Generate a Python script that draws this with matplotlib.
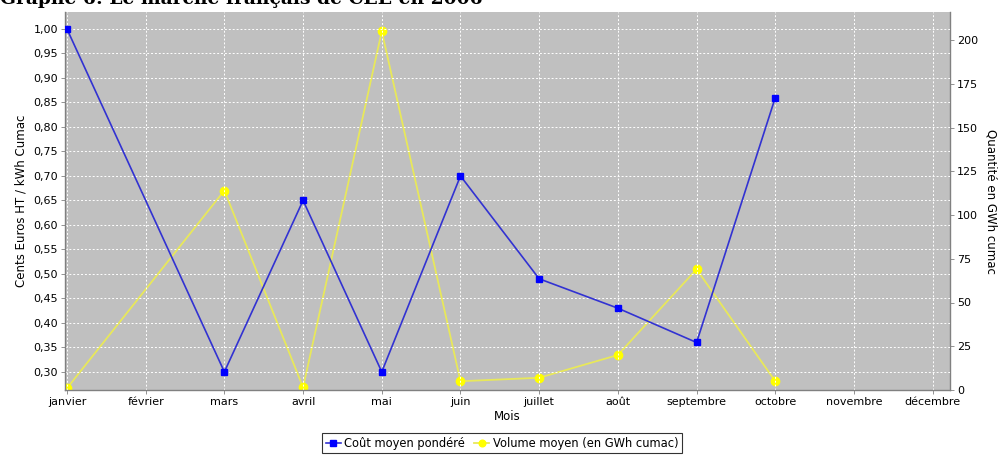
import matplotlib
matplotlib.use('Agg')
from matplotlib import pyplot as plt
from matplotlib.ticker import FuncFormatter, MultipleLocator

# Data
mois = ['janvier', 'février', 'mars', 'avril', 'mai', 'juin', 'juillet',
        'août', 'septembre', 'octobre', 'novembre', 'décembre']
cout = [1.00, None, 0.30, 0.65, 0.30, 0.70, 0.49, 0.43, 0.36, 0.86, None, None]
volume = [1, None, 114, 1.5, 205, 5, 7, 20, 69, 5, None, None]

title = 'Graphe 6: Le marché français de CEE en 2006'

def keep(vals):
    xs = [i for i, v in enumerate(vals) if v is not None]
    ys = [v for v in vals if v is not None]
    return xs, ys

plt.rcParams['font.family'] = ['DejaVu Sans']
fig = plt.figure(figsize=(9.98, 4.59), dpi=100)
ax1 = fig.add_axes([65/998, 1 - 390/459, (950 - 65)/998, (390 - 12)/459])
ax2 = ax1.twinx()

ax1.set_facecolor('#C0C0C0')
ax1.set_axisbelow(True)
ax2.set_zorder(ax1.get_zorder() - 1)
ax1.patch.set_visible(False)
ax2.patch.set_visible(True)
ax2.patch.set_facecolor('#C0C0C0')

x_c, y_c = keep(cout)
x_v, y_v = keep(volume)

h1, = ax1.plot(x_c, y_c, color='#3232D2', linewidth=1.2, marker='s',
               markersize=5, markerfacecolor='#0000FF', markeredgecolor='#0000FF',
               label='Coût moyen pondéré', zorder=3)
h2, = ax2.plot(x_v, y_v, color='#E8E85A', linewidth=1.3, marker='o',
               markersize=6, markerfacecolor='#FFFF00', markeredgecolor='#FFFF00',
               label='Volume moyen (en GWh cumac)', zorder=3)
# draw blue on top of yellow
ax1.set_zorder(ax2.get_zorder() + 1)

ax1.set_xlim(-0.025, 11.22)
ax1.set_ylim(0.263, 1.0347)
ax2.set_ylim(0, 216)

ax1.set_xticks(range(len(mois)))
ax1.set_xticklabels(mois)
ax1.yaxis.set_major_locator(MultipleLocator(0.05))
ax1.yaxis.set_major_formatter(FuncFormatter(lambda v, p: f'{v:.2f}'.replace('.', ',')))
ax2.yaxis.set_major_locator(MultipleLocator(25))

ax1.grid(True, color='white', linestyle=(0, (2, 2)), linewidth=0.7)

for ax in (ax1, ax2):
    for s in ax.spines.values():
        s.set_visible(False)
    ax.tick_params(labelsize=8, length=3, width=0.6, color='#808080', pad=2)
ax1.spines['left'].set_visible(True)
ax1.spines['bottom'].set_visible(True)
ax2.spines['right'].set_visible(True)
for s in (ax1.spines['left'], ax1.spines['bottom'], ax2.spines['right']):
    s.set_color('#808080')
    s.set_linewidth(1.0)

ax1.set_xlabel('Mois', fontsize=8.5, labelpad=2)
ax1.set_ylabel('Cents Euros HT / kWh Cumac', fontsize=8.5, labelpad=4)
ax2.set_ylabel('Quantité en GWh cumac', fontsize=8.5, rotation=270, labelpad=14)

fig.text(0.0, 1 - 4/459, title, fontsize=13.5, fontweight='bold',
         family='DejaVu Serif', va='baseline', ha='left')

leg = fig.legend(handles=[h1, h2], loc='lower center', bbox_to_anchor=(0.503, 0.0),
                 ncol=2, fontsize=8.3, frameon=True, fancybox=False,
                 handlelength=1.3, handletextpad=0.3, columnspacing=0.8,
                 borderpad=0.3, borderaxespad=0.5, markerscale=0.8)
leg.get_frame().set_edgecolor('black')
leg.get_frame().set_linewidth(0.8)

fig.savefig('out.png', dpi=100)
